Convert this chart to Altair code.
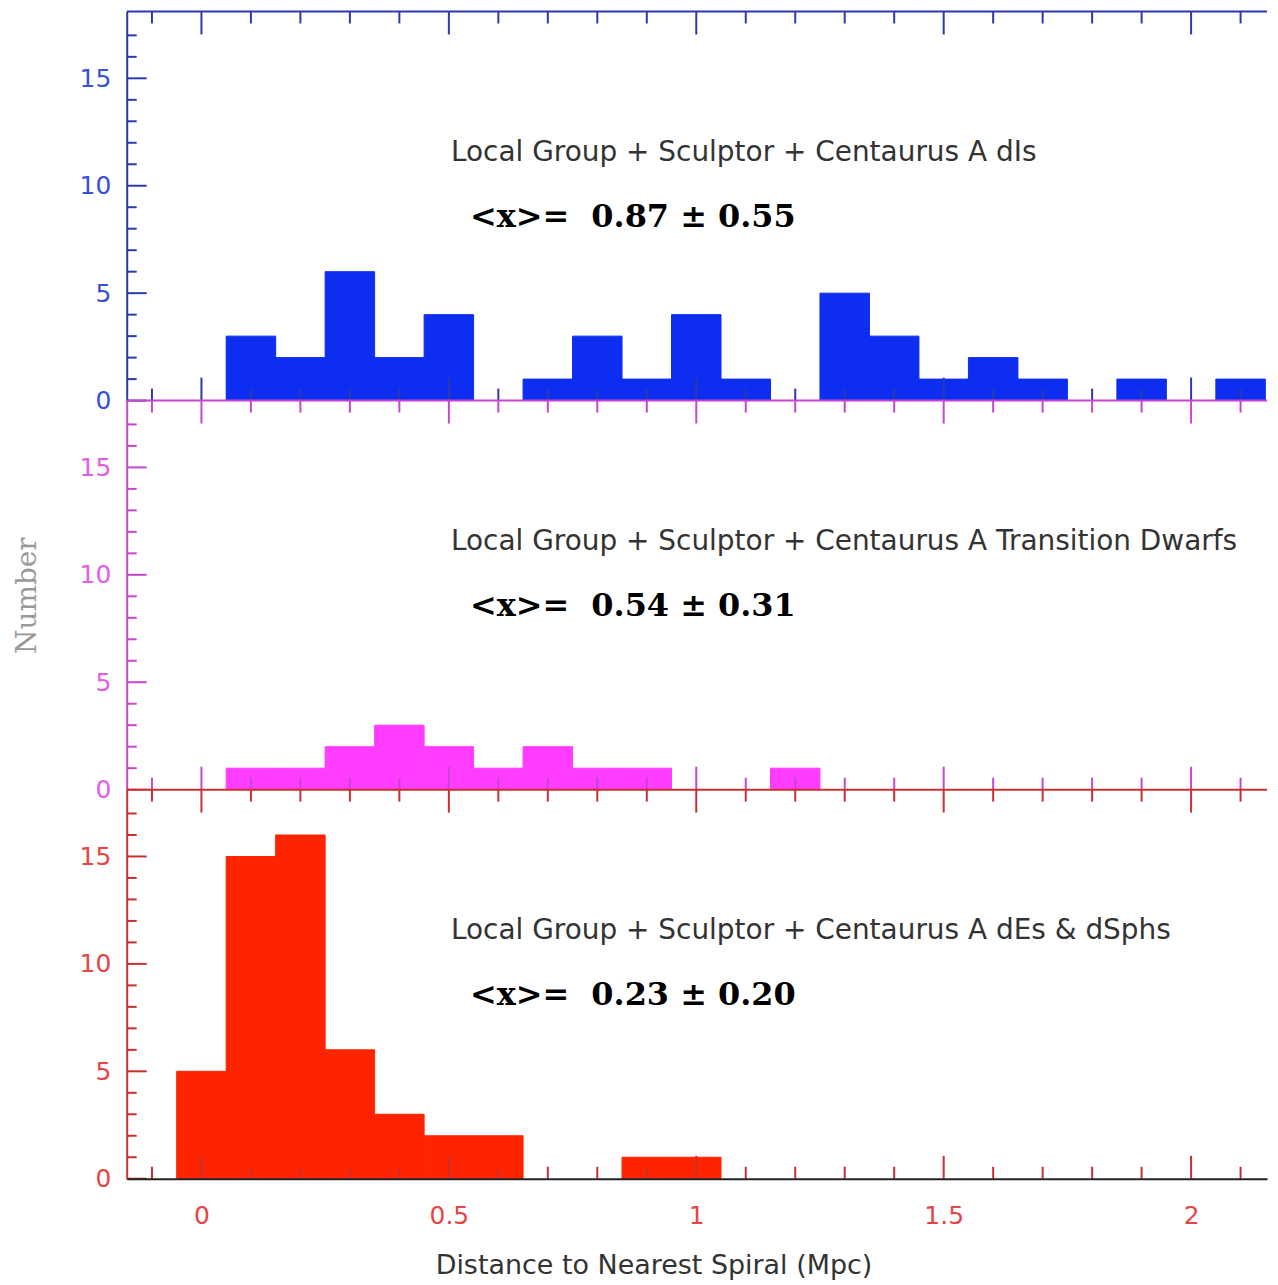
import altair as alt
import pandas as pd

# ---------------- data ----------------
bin_centers = [0.0, 0.1, 0.2, 0.3, 0.4, 0.5, 0.6, 0.7, 0.8, 0.9, 1.0,
               1.1, 1.2, 1.3, 1.4, 1.5, 1.6, 1.7, 1.8, 1.9, 2.0, 2.1]
dis_counts = [0, 3, 2, 6, 2, 4, 0, 1, 3, 1, 4,
              1, 0, 5, 3, 1, 2, 1, 0, 1, 0, 1]
trans_counts = [0, 1, 1, 2, 3, 2, 1, 2, 1, 1, 0,
                0, 1, 0, 0, 0, 0, 0, 0, 0, 0, 0]
sph_counts = [5, 15, 16, 6, 3, 2, 2, 0, 0, 1, 1,
              0, 0, 0, 0, 0, 0, 0, 0, 0, 0, 0]
bin_width = 0.1

panel_titles = ["Local Group + Sculptor + Centaurus A dIs",
                "Local Group + Sculptor + Centaurus A Transition Dwarfs",
                "Local Group + Sculptor + Centaurus A dEs & dSphs"]
panel_stats = ["<x>=\u00a0\u00a00.87 \u00b1 0.55",
               "<x>=\u00a0\u00a00.54 \u00b1 0.31",
               "<x>=\u00a0\u00a00.23 \u00b1 0.20"]

x_major = [0, 0.5, 1, 1.5, 2]
x_minor = [-0.1, 0.1, 0.2, 0.3, 0.4, 0.6, 0.7, 0.8, 0.9, 1.1, 1.2, 1.3, 1.4,
           1.6, 1.7, 1.8, 1.9, 2.1]
y_major = [0, 5, 10, 15]
y_minor = [1, 2, 3, 4, 6, 7, 8, 9, 11, 12, 13, 14, 16, 17]

x_domain = [-0.151, 2.1534]
y_domain = [0, 18.11]

# ---------------- style ----------------
W, H = 1143, 390
xs = alt.Scale(domain=x_domain, nice=False, zero=False)
ys = alt.Scale(domain=y_domain, nice=False, zero=False)


def panel(counts, fill, line, lab, title_text, stat_text, bottom=False, ytitle=False):
    df = pd.DataFrame({"c": bin_centers, "n": counts})
    df = df[df["n"] > 0].copy()
    df["lo"] = df["c"] - bin_width / 2
    df["hi"] = df["c"] + bin_width / 2

    if bottom:
        xaxis = alt.Axis(values=x_major, format="~g", ticks=False, grid=False,
                         domainColor="#222222", domainWidth=2, zindex=1,
                         labelColor=lab, labelFont="DejaVu Sans", labelFontSize=25,
                         labelPadding=25,
                         title="Distance to Nearest Spiral (Mpc)",
                         titleFont="DejaVu Sans", titleFontSize=27,
                         titleFontWeight="normal", titleColor="#333333",
                         titlePadding=24, titleX=528)
    else:
        xaxis = None

    yargs = dict(values=y_major, ticks=False, grid=False, domainColor=line,
                 domainWidth=2, zindex=1, labelColor=lab, labelFont="DejaVu Sans",
                 labelFontSize=25, labelPadding=16)
    if ytitle:
        yargs.update(title="Number", titleFont="DejaVu Serif", titleFontSize=28,
                     titleFontWeight="normal", titleColor="#999999", titlePadding=38)
    else:
        yargs.update(title="")
    yaxis = alt.Axis(**yargs)

    bars = alt.Chart(df).mark_rect(color=fill, stroke=fill, strokeWidth=1).encode(
        x=alt.X("lo:Q", scale=xs, axis=xaxis),
        x2="hi:Q",
        y=alt.Y("n:Q", scale=ys, axis=yaxis),
        y2=alt.datum(0),
    )

    xmin_df = pd.DataFrame({"x": x_minor})
    xmaj_df = pd.DataFrame({"x": x_major})
    ymin_df = pd.DataFrame({"y": y_minor})
    ymaj_df = pd.DataFrame({"y": y_major})

    def xt(d, y0, y1):
        return alt.Chart(d).mark_rule(color=line, strokeWidth=2).encode(
            x=alt.X("x:Q", scale=xs, axis=xaxis), y=alt.value(y0), y2=alt.value(y1))

    def yt(d, length):
        return alt.Chart(d).mark_rule(color=line, strokeWidth=2).encode(
            y=alt.Y("y:Q", scale=ys, axis=yaxis), x=alt.value(0), x2=alt.value(length))

    border = alt.Chart(pd.DataFrame({"a": [0]})).mark_rule(color=line, strokeWidth=2).encode(
        x=alt.value(0), x2=alt.value(W), y=alt.value(0))

    t1 = alt.Chart(pd.DataFrame({"t": [title_text]})).mark_text(
        align="left", baseline="middle", font="DejaVu Sans", fontSize=28,
        color="#333333").encode(x=alt.value(325), y=alt.value(142), text="t:N")
    t2 = alt.Chart(pd.DataFrame({"t": [stat_text]})).mark_text(
        align="left", baseline="middle", font="DejaVu Serif", fontSize=32,
        fontWeight="bold", color="#000000").encode(x=alt.value(344), y=alt.value(206), text="t:N")

    return alt.layer(
        bars,
        xt(xmin_df, 0, 12), xt(xmaj_df, 0, 23),
        xt(xmin_df, H, H - 12), xt(xmaj_df, H, H - 23),
        yt(ymin_df, 10), yt(ymaj_df, 20),
        border, t1, t2,
    ).properties(width=W, height=H)


p1 = panel(dis_counts, "#0d2ef0", "#2b3aaa", "#3a50d8", panel_titles[0], panel_stats[0])
p2 = panel(trans_counts, "#ff3cff", "#c845d0", "#e25ee8", panel_titles[1], panel_stats[1], ytitle=True)
p3 = panel(sph_counts, "#ff2400", "#c83030", "#e64545", panel_titles[2], panel_stats[2], bottom=True)

chart = alt.vconcat(p1, p2, p3, spacing=0, bounds="flush").properties(
    padding={"left": 5, "top": 1, "right": 2, "bottom": 2}
).configure_view(stroke=None).configure_concat(spacing=0)

chart.save("out.html", embed_options={"renderer": "svg", "actions": False})
